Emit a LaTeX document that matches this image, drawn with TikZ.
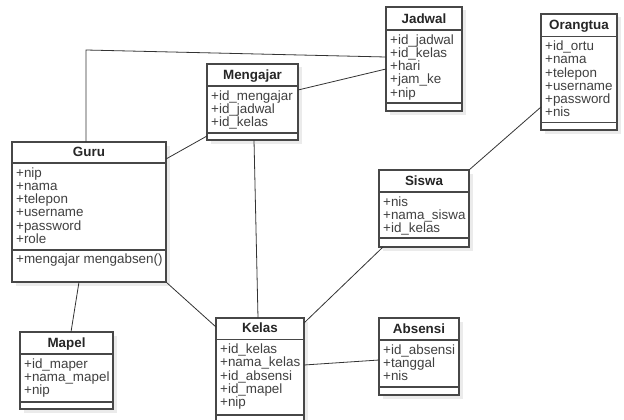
\documentclass[tikz,border=0pt]{standalone}
\usepackage{fontspec}
\setmainfont{Liberation Sans}
\usepackage{tikz}
\usetikzlibrary{calc,shadows}
\definecolor{BoxLine}{HTML}{474747}
\definecolor{AttrText}{HTML}{404040}
\definecolor{TitleText}{HTML}{262626}
\definecolor{LinkLine}{HTML}{333333}

\begin{document}
\begin{tikzpicture}[x=1pt,y=-1pt,
  every node/.style={font=\fontsize{13.4}{13.2}\selectfont},
  classbox/.style={draw=BoxLine,line width=1.1pt,fill=white,inner sep=0pt,outer sep=0pt,
    drop shadow={shadow xshift=3.5pt,shadow yshift=-3.5pt,fill=black,opacity=0.08}},
  classline/.style={draw=BoxLine,line width=1.1pt},
  titletext/.style={font=\bfseries\fontsize{13.4}{13.2}\selectfont,text=TitleText,inner sep=0pt},
  attrtext/.style={text=AttrText,align=left,inner sep=0pt},
  link/.style={draw=LinkLine,line width=0.8pt}]
  \useasboundingbox[fill=white] (0,0) rectangle (624,420);
  % classes: name/title/left/top/right/header line/separator/bottom/attributes
  \foreach \id/\title/\xl/\yt/\xr/\yh/\ys/\yb/\attrs in {
    jadwal/Jadwal/386/7/462/30/103/111/{+id\_jadwal\\+id\_kelas\\+hari\\+jam\_ke\\+nip},
    orangtua/Orangtua/541/14/617/36.5/122.5/130/{+id\_ortu\\+nama\\+telepon\\+username\\+password\\+nis},
    mengajar/Mengajar/207/64/298/86/133/140/{+id\_mengajar\\+id\_jadwal\\+id\_kelas},
    guru/Guru/12/142/166/163/250/282/{+nip\\+nama\\+telepon\\+username\\+password\\+role},
    siswa/Siswa/379/170/469/192/238/247/{+nis\\+nama\_siswa\\+id\_kelas},
    mapel/Mapel/20/332/113/354/402/409/{+id\_maper\\+nama\_mapel\\+nip},
    kelas/Kelas/216/318/304/339.5/415/440/{+id\_kelas\\+nama\_kelas\\+id\_absensi\\+id\_mapel\\+nip},
    absensi/Absensi/379/318/459/340/387/395/{+id\_absensi\\+tanggal\\+nis}}{
    \node[classbox,anchor=north west,minimum width={\xr-\xl},minimum height={\yb-\yt}] (\id) at (\xl,\yt) {};
    \draw[classline] (\xl,\yh) -- (\xr,\yh) (\xl,\ys) -- (\xr,\ys);
    \node[titletext,anchor=base] (\id-title) at ({(\xl+\xr)/2},{\yh-6.6}) {\title};
    \node[attrtext,anchor=north west] (\id-attr) at ({\xl+4},{\yh+4.3}) {\attrs};
  }
  \node[attrtext,anchor=north west] (guru-ops) at (16,253.3) {+mengajar mengabsen()};

  % associations
  \coordinate (gurutop) at (86,50);
  \draw[link] ($(guru.north)+(-3,0)$) -- (gurutop) -- ($(jadwal.west)+(0,-2)$);
  \draw[link] ($(mengajar.east)+(0,-12)$) -- ($(jadwal.west)+(0,10)$);
  \draw[link] ($(guru.north east)+(0,17)$) -- ($(mengajar.south west)+(0,-4)$);
  \draw[link] ($(mengajar.south)+(1.5,0)$) -- ($(kelas.north)+(-2,0)$);
  \draw[link] (guru.south east) -- ($(kelas.north west)+(0,9)$);
  \draw[link] ($(guru.south)+(-10,0)$) -- ($(mapel.north)+(4.5,0)$);
  \draw[link] ($(kelas.north east)+(0,5)$) -- ($(siswa.south west)+(4,0)$);
  \draw[link] ($(kelas.north east)+(0,47)$) -- ($(absensi.west)+(0,3.5)$);
  \draw[link] (siswa.north east) -- ($(orangtua.north west)+(0,93)$);
\end{tikzpicture}
\end{document}
